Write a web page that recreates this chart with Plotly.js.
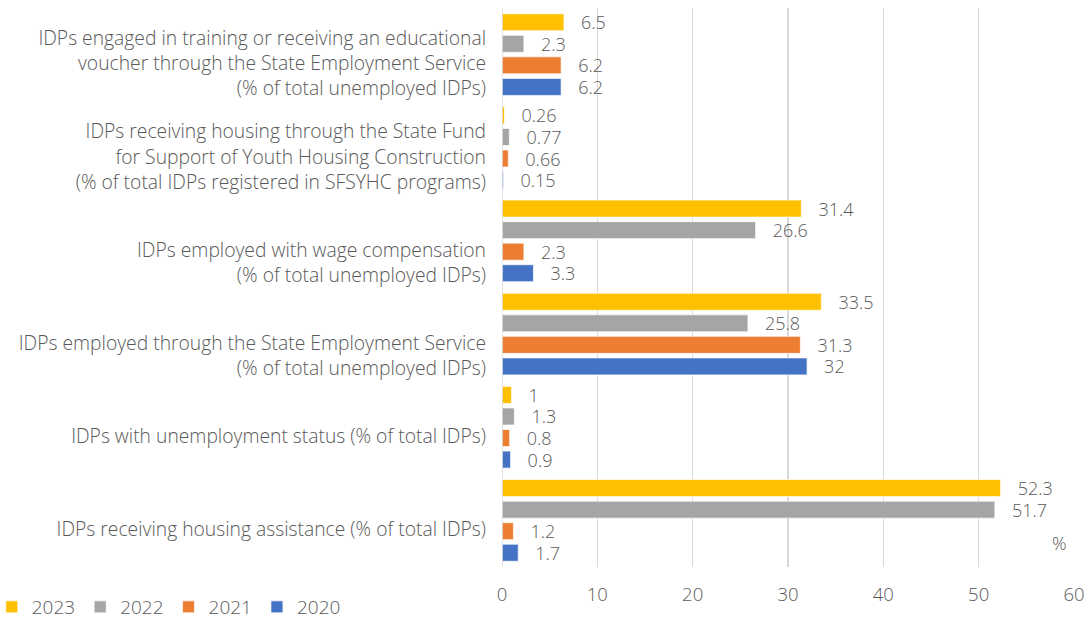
<!DOCTYPE html>
<html>
<head>
<meta charset="utf-8">
<script src="https://cdn.plot.ly/plotly-3.0.1.min.js"></script>
<style>html,body{margin:0;padding:0;background:#fff;}#chart{width:1086px;height:619px;}</style>
</head>
<body>
<div id="chart"></div>
<script>
const categories = [
  "IDPs receiving housing assistance (% of total IDPs)",
  "IDPs with unemployment status (% of total IDPs)",
  "IDPs employed through the State Employment Service<br>(% of total unemployed IDPs)",
  "IDPs employed with wage compensation<br>(% of total unemployed IDPs)",
  "IDPs receiving housing through the State Fund<br>for Support of Youth Housing Construction<br>(% of total IDPs registered in SFSYHC programs)",
  "IDPs engaged in training or receiving an educational<br>voucher through the State Employment Service<br>(% of total unemployed IDPs)"
];
const seriesNames = ["2020", "2021", "2022", "2023"];
const values2020 = [1.7, 0.9, 32, 3.3, 0.15, 6.2];
const values2021 = [1.2, 0.8, 31.3, 2.3, 0.66, 6.2];
const values2022 = [51.7, 1.3, 25.8, 26.6, 0.77, 2.3];
const values2023 = [52.3, 1, 33.5, 31.4, 0.26, 6.5];
const colors = ["#4472C4", "#ED7D31", "#A5A5A5", "#FFC000"];
const xTicks = [0, 10, 20, 30, 40, 50, 60];

const allValues = [values2020, values2021, values2022, values2023];
const fontFam = "'Open Sans', 'Noto Sans', sans-serif";
const txtColor = "#595959";

// two-line labels sit lower in the reference: pad them with an empty first line
const yTickText = categories.map(c => c.split("<br>").length === 2 ? "\u00a0<br>" + c : c);

const traces = allValues.map((vals, i) => ({
  type: "bar",
  orientation: "h",
  name: seriesNames[i],
  y: categories,
  x: vals,
  text: vals.map(v => "\u00a0\u00a0\u00a0" + String(v)),
  textposition: "outside",
  constraintext: "none",
  cliponaxis: false,
  textfont: {family: fontFam, size: 18, color: txtColor, weight: 300},
  marker: {color: colors[i], line: {color: "rgba(255,255,255,0.7)", width: 1}},
  hoverinfo: "x+name"
}));

const layout = {
  width: 1086,
  height: 619,
  margin: {l: 502, r: 12, t: 8, b: 52, autoexpand: false},
  barmode: "group",
  bargap: 0.075,
  bargroupgap: 0.21,
  paper_bgcolor: "#ffffff",
  plot_bgcolor: "#ffffff",
  font: {family: fontFam, size: 18, color: txtColor},
  showlegend: true,
  legend: {
    orientation: "h",
    traceorder: "reversed",
    x: -0.892, xanchor: "left",
    y: -0.0716, yanchor: "middle",
    font: {family: fontFam, size: 19, color: txtColor, weight: 300},
    itemwidth: 30,
    bgcolor: "rgba(0,0,0,0)"
  },
  xaxis: {
    range: [0, 60],
    tickvals: xTicks,
    ticktext: xTicks.map(String),
    showgrid: true,
    gridcolor: "#d9d9d9",
    gridwidth: 1.5,
    zeroline: false,
    showline: false,
    ticks: "",
    ticklabelstandoff: 14,
    tickfont: {family: fontFam, size: 18.5, color: txtColor, weight: 300},
    fixedrange: true
  },
  yaxis: {
    type: "category",
    tickmode: "array",
    tickvals: categories,
    ticktext: yTickText,
    showgrid: false,
    zeroline: false,
    showline: false,
    ticks: "",
    ticklabelstandoff: 15,
    ticklabelshift: 9,
    tickfont: {family: fontFam, size: 19.3, color: txtColor, weight: 300},
    fixedrange: true
  },
  shapes: [{
    type: "line", xref: "x", yref: "paper", x0: 0, x1: 0, y0: 0, y1: 1,
    line: {color: "#d9d9d9", width: 1.5}
  }],
  annotations: [{
    xref: "paper", yref: "paper", x: 0.9755, y: 0.043, xanchor: "center", yanchor: "middle",
    text: "%", showarrow: false, font: {family: fontFam, size: 18, color: txtColor, weight: 300}
  }]
};

Plotly.newPlot("chart", traces, layout, {displayModeBar: false, staticPlot: true});
</script>
</body>
</html>
